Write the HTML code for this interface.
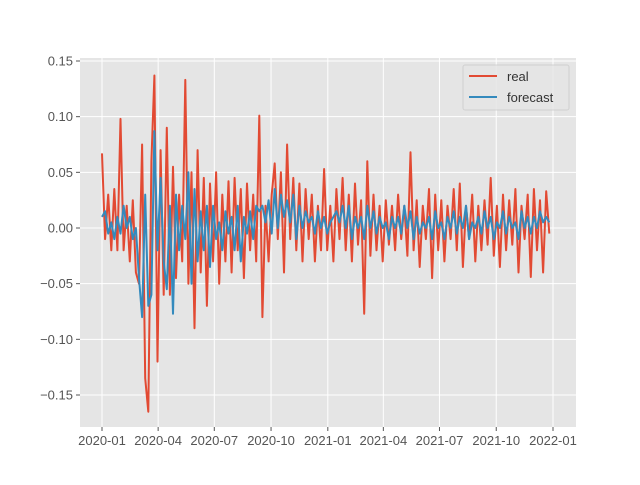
<!DOCTYPE html>
<html><head><meta charset="utf-8"><style>
body{margin:0;background:#fff;}
svg text{font-family:"Liberation Sans","DejaVu Sans",sans-serif;}
</style></head><body>
<svg id="chart" width="640" height="480" xmlns="http://www.w3.org/2000/svg">
<rect x="80" y="58" width="496" height="369" fill="#e5e5e5"/>
<g id="grid"></g>
<g id="series"></g>
<g id="ticks"></g>
<g>
<rect x="463" y="65" width="106" height="45" fill="#e5e5e5" stroke="#cccccc" stroke-width="1" rx="2" opacity="0.8"/>
<line x1="469" y1="76" x2="497" y2="76" stroke="#E24A33" stroke-width="2"/>
<text x="507" y="81" font-size="13" fill="#333">real</text>
<line x1="469" y1="97" x2="497" y2="97" stroke="#348ABD" stroke-width="2"/>
<text x="507" y="102" font-size="13" fill="#333">forecast</text>
</g>
</svg>
<script>
const tickLabels=["2020-01","2020-04","2020-07","2020-10","2021-01","2021-04","2021-07","2021-10","2022-01"];
const tickDays=[0,91,182,274,366,456,547,639,731];
const yTicks=[0.15,0.10,0.05,0.00,-0.05,-0.10,-0.15];
const yTickLabels=["0.15","0.10","0.05","0.00","\u22120.05","\u22120.10","\u22120.15"];
const stepDays=5;
const realValues=[0.067,-0.01,0.03,-0.02,0.035,-0.02,0.098,-0.02,0.02,-0.03,0.025,-0.04,-0.05,0.075,-0.135,-0.165,0.06,0.137,-0.12,0.07,-0.06,0.09,-0.06,0.055,-0.045,0.03,-0.03,0.133,-0.05,0.05,-0.09,0.07,-0.04,0.045,-0.07,0.04,-0.03,0.05,-0.05,0.03,-0.03,0.042,-0.04,0.045,-0.02,0.035,-0.045,0.04,-0.02,0.03,-0.03,0.101,-0.08,0.02,-0.03,0.03,0.058,-0.01,0.05,-0.04,0.075,-0.01,0.045,-0.02,0.04,-0.03,0.035,-0.01,0.03,-0.03,0.02,-0.02,0.053,-0.02,0.02,-0.03,0.035,-0.01,0.045,-0.02,0.03,-0.03,0.04,-0.015,0.025,-0.077,0.06,-0.025,0.03,-0.02,0.02,-0.03,0.025,-0.015,0.02,-0.02,0.03,-0.01,0.02,-0.025,0.068,-0.02,0.025,-0.035,0.02,-0.01,0.035,-0.045,0.03,-0.02,0.025,-0.03,0.02,-0.01,0.035,-0.02,0.04,-0.035,0.02,-0.01,0.03,-0.03,0.02,-0.02,0.025,-0.015,0.045,-0.025,0.02,-0.035,0.03,-0.02,0.025,-0.015,0.035,-0.04,0.02,-0.01,0.03,-0.044,0.035,-0.02,0.025,-0.04,0.033,-0.005];
const forecastValues=[0.01,0.015,-0.005,0.005,-0.01,0.01,-0.005,0.02,0.0,0.01,-0.01,0.0,-0.045,-0.08,0.03,-0.07,-0.06,0.087,-0.02,0.045,-0.03,-0.055,0.02,-0.077,0.03,-0.02,0.02,-0.01,0.05,-0.05,0.035,-0.03,0.015,-0.02,0.02,-0.035,0.02,-0.01,0.005,-0.02,0.015,-0.005,0.01,-0.02,0.02,-0.03,0.01,-0.005,0.015,-0.01,0.02,0.015,0.02,0.005,0.025,-0.005,0.035,0.0,0.03,0.01,0.025,0.005,0.03,-0.01,0.02,0.0,0.015,0.005,0.01,-0.005,0.015,0.0,0.01,-0.005,0.005,0.01,0.015,0.005,0.02,0.0,0.02,-0.01,0.01,0.0,0.01,-0.01,0.02,0.0,0.015,-0.005,0.01,0.0,0.005,-0.01,0.01,0.0,0.01,-0.005,0.02,0.0,0.015,-0.01,0.01,-0.005,0.005,0.0,0.01,-0.01,0.015,0.0,0.005,-0.01,0.01,0.0,0.015,-0.005,0.01,0.0,0.02,-0.01,0.005,0.0,0.01,-0.005,0.015,0.0,0.01,-0.01,0.005,0.0,0.015,-0.005,0.01,0.0,0.005,-0.01,0.015,0.0,0.01,-0.005,0.01,0.0,0.015,0.005,0.01,0.005];
const NS="http://www.w3.org/2000/svg";
const x0=80,x1=576,yTop=58,yBot=427;
function xScale(d){return 102+d*(553-102)/731;}
function yScale(v){return 228-v*(167/0.15);}
const grid=document.getElementById('grid'),ticks=document.getElementById('ticks'),series=document.getElementById('series');
tickDays.forEach((d,i)=>{
 const x=xScale(d);
 const l=document.createElementNS(NS,'line');
 l.setAttribute('x1',x);l.setAttribute('x2',x);l.setAttribute('y1',yTop);l.setAttribute('y2',yBot);
 l.setAttribute('stroke','#fff');l.setAttribute('stroke-width','1');
 
 
 grid.appendChild(l);
 const tk=document.createElementNS(NS,'line');
 tk.setAttribute('x1',x);tk.setAttribute('x2',x);tk.setAttribute('y1',yBot);tk.setAttribute('y2',yBot+4);
 tk.setAttribute('stroke','#555');
 
 
 ticks.appendChild(tk);
 const t=document.createElementNS(NS,'text');
 t.setAttribute('x',x);t.setAttribute('y',yBot+18);t.setAttribute('text-anchor','middle');
 t.setAttribute('font-size','13');t.setAttribute('fill','#555');
 t.textContent=tickLabels[i];
 
 
 ticks.appendChild(t);
});
yTicks.forEach((v,i)=>{
 const y=yScale(v);
 const l=document.createElementNS(NS,'line');
 l.setAttribute('x1',x0);l.setAttribute('x2',x1);l.setAttribute('y1',y);l.setAttribute('y2',y);
 l.setAttribute('stroke','#fff');
 
 
 grid.appendChild(l);
 const tk=document.createElementNS(NS,'line');
 tk.setAttribute('x1',x0-4);tk.setAttribute('x2',x0);tk.setAttribute('y1',y);tk.setAttribute('y2',y);
 tk.setAttribute('stroke','#555');
 
 
 ticks.appendChild(tk);
 const t=document.createElementNS(NS,'text');
 t.setAttribute('x',x0-7);t.setAttribute('y',y+4.5);t.setAttribute('text-anchor','end');
 t.setAttribute('font-size','13');t.setAttribute('fill','#555');
 t.textContent=yTickLabels[i];
 
 
 ticks.appendChild(t);
});
function drawLine(vals,color,name){
 const pts=vals.map((v,i)=>xScale(i*stepDays).toFixed(1)+','+yScale(v).toFixed(1)).join(' ');
 const p=document.createElementNS(NS,'polyline');
 p.setAttribute('points',pts);p.setAttribute('fill','none');p.setAttribute('stroke',color);
 p.setAttribute('stroke-width','2');p.setAttribute('stroke-linejoin','round');
 
 
 series.appendChild(p);
}
drawLine(realValues,'#E24A33','real-series-line');
drawLine(forecastValues,'#348ABD','forecast-series-line');
</script>
</body></html>
